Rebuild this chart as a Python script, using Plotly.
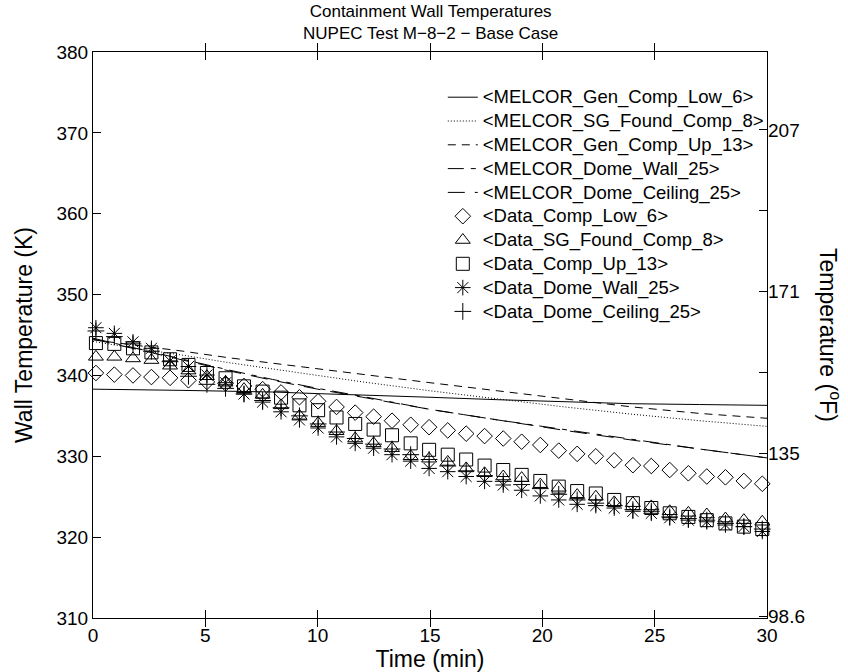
import plotly.graph_objects as go

# ---- data ----
data_time = [0.13, 0.95, 1.78, 2.6, 3.43, 4.25, 5.07, 5.9, 6.72, 7.55, 8.37, 9.19, 10.02,
             10.84, 11.67, 12.49, 13.31, 14.14, 14.96, 15.79, 16.61, 17.43, 18.26, 19.08,
             19.91, 20.73, 21.55, 22.38, 23.2, 24.03, 24.85, 25.67, 26.5, 27.32, 28.15,
             28.97, 29.79]

data_comp_low_6 = [340.3, 340.1, 340.0, 339.8, 339.7, 339.4, 339.2, 339.0, 338.7, 338.3,
                   337.9, 337.3, 336.8, 336.1, 335.4, 334.9, 334.4, 333.9, 333.6, 333.2,
                   332.8, 332.5, 332.2, 331.8, 331.4, 330.7, 330.3, 330.0, 329.5, 328.9,
                   328.8, 328.3, 327.9, 327.5, 327.4, 326.95, 326.6]
data_sg_found_8 = [342.3, 342.3, 342.1, 341.9, 341.2, 340.6, 339.9, 339.1, 338.3, 337.6,
                   336.3, 335.0, 334.1, 333.1, 332.2, 331.6, 331.0, 330.0, 329.7, 329.3,
                   328.5, 327.9, 327.5, 327.3, 326.5, 326.1, 325.2, 325.0, 324.3, 324.2,
                   323.8, 323.2, 323.0, 322.8, 322.3, 322.1, 321.9]
data_comp_up_13 = [344.0, 343.9, 343.35, 342.85, 342.0, 341.3, 340.3, 339.65, 338.65, 338.0,
                   337.25, 336.3, 335.7, 334.8, 334.0, 333.3, 332.6, 331.6, 330.8, 330.2,
                   329.6, 328.85, 328.3, 327.7, 326.95, 326.25, 325.7, 325.4, 324.6, 324.2,
                   323.6, 322.95, 322.5, 322.1, 321.7, 321.3, 321.0]
data_dome_wall_25 = [345.9, 345.2, 344.15, 343.35, 341.8, 341.1, 340.05, 339.1, 337.7, 336.7,
                     335.5, 334.5, 333.5, 332.4, 331.6, 331.0, 330.2, 329.4, 328.5, 328.1,
                     327.5, 326.9, 326.45, 325.8, 325.1, 324.6, 324.06, 323.9, 323.6, 323.2,
                     322.95, 322.4, 322.1, 321.9, 321.5, 321.3, 320.7]
data_dome_ceiling_25 = [345.5, 344.8, 343.9, 343.0, 341.7, 339.9, 338.9, 338.4, 337.7, 336.9,
                        336.0, 335.0, 334.0, 333.0, 332.2, 331.5, 330.9, 330.2, 329.6, 328.8,
                        328.2, 327.6, 326.9, 326.5, 326.0, 325.3, 324.6, 324.2, 323.9, 323.4,
                        323.2, 322.5, 322.3, 322.1, 321.7, 321.3, 321.0]

melcor_time = [0, 2, 4, 6, 8, 10, 12, 15, 18, 21, 24, 27, 30]
melcor_gen_comp_low_6 = [338.3, 338.25, 338.15, 338.05, 337.95, 337.75, 337.6, 337.3, 337.0,
                         336.75, 336.5, 336.4, 336.3]
melcor_sg_found_comp_8 = [344.2, 343.3, 342.5, 341.6, 340.8, 340.0, 339.2, 338.1, 337.1,
                          336.1, 335.2, 334.4, 333.7]
melcor_gen_comp_up_13 = [344.4, 343.7, 343.0, 342.2, 341.5, 340.8, 340.1, 339.1, 338.1,
                         337.1, 336.1, 335.3, 334.7]
melcor_dome_wall_25 = [344.6, 343.3, 342.0, 340.7, 339.5, 338.4, 337.4, 335.8, 334.5, 333.3,
                       332.1, 330.9, 329.8]
melcor_dome_ceiling_25 = [344.5, 343.2, 341.9, 340.6, 339.4, 338.3, 337.3, 335.8, 334.5,
                          333.2, 332.0, 330.9, 329.8]

y_ticks_k = [310, 320, 330, 340, 350, 360, 370, 380]
y2_tickvals_f = [98.6, 135, 171, 207]
y2_ticktext = ["98.6", "135", "171", "207"]
y2_minor_f = [153, 189]
x_ticks = [0, 5, 10, 15, 20, 25, 30]

FONT = "Liberation Sans, Arial, Helvetica, sans-serif"


def leg(name):
    return '<span style="font-size:18.5px">' + name + '</span>'


fig = go.Figure()

line_specs = [
    ("&lt;MELCOR_Gen_Comp_Low_6&gt;", melcor_gen_comp_low_6, "solid"),
    ("&lt;MELCOR_SG_Found_Comp_8&gt;", melcor_sg_found_comp_8, "1px,2px"),
    ("&lt;MELCOR_Gen_Comp_Up_13&gt;", melcor_gen_comp_up_13, "8px,6px"),
    ("&lt;MELCOR_Dome_Wall_25&gt;", melcor_dome_wall_25, "16px,7px,5px,7px"),
    ("&lt;MELCOR_Dome_Ceiling_25&gt;", melcor_dome_ceiling_25, "17px,10px"),
]
for name, ys, dash in line_specs:
    fig.add_trace(go.Scatter(x=melcor_time, y=ys, mode="lines", name=leg(name),
                             line=dict(color="black", width=1, dash=dash)))

marker_specs = [
    ("&lt;Data_Comp_Low_6&gt;", data_comp_low_6, "diamond-open", 12),
    ("&lt;Data_SG_Found_Comp_8&gt;", data_sg_found_8, "triangle-up-open", 13),
    ("&lt;Data_Comp_Up_13&gt;", data_comp_up_13, "square-open", 13),
    ("&lt;Data_Dome_Wall_25&gt;", data_dome_wall_25, "asterisk-open", 13),
    ("&lt;Data_Dome_Ceiling_25&gt;", data_dome_ceiling_25, "cross-thin-open", 12),
]
for name, ys, sym, size in marker_specs:
    fig.add_trace(go.Scatter(x=data_time, y=ys, mode="markers", name=leg(name),
                             cliponaxis=False,
                             marker=dict(symbol=sym, size=size, color="black",
                                         line=dict(color="black", width=1))))

# helper trace so the Fahrenheit axis is drawn
fig.add_trace(go.Scatter(x=[None], y=[None], yaxis="y2", showlegend=False, hoverinfo="skip"))

k_lo, k_hi = 310, 380
fig.update_layout(
    width=848, height=672,
    margin=dict(l=93, r=81, t=52, b=54, autoexpand=False),
    paper_bgcolor="white", plot_bgcolor="white",
    font=dict(family=FONT, size=19, color="black"),
    xaxis=dict(range=[0, 30], tickvals=x_ticks, ticks="inside", ticklen=8, tickcolor="black",
               showline=True, linecolor="black", linewidth=1, mirror="allticks",
               showgrid=False, zeroline=False, tickfont=dict(size=19), automargin=False,
               title=dict(text="Time (min)", font=dict(size=23), standoff=6)),
    yaxis=dict(range=[k_lo, k_hi], tickvals=y_ticks_k, ticks="inside", ticklen=8,
               tickcolor="black", showline=True, linecolor="black", linewidth=1, mirror=True,
               showgrid=False, zeroline=False, tickfont=dict(size=19), automargin=False,
               title=dict(text="Wall Temperature (K)", font=dict(size=23), standoff=17)),
    yaxis2=dict(overlaying="y", side="right",
                range=[k_lo * 1.8 - 459.67, k_hi * 1.8 - 459.67],
                tickmode="array", tickvals=y2_tickvals_f, ticktext=y2_ticktext,
                ticks="inside", ticklen=8, tickcolor="black",
                minor=dict(tickmode="array", tickvals=y2_minor_f, ticks="inside", ticklen=8,
                           tickcolor="black", showgrid=False),
                showline=False, showgrid=False, zeroline=False, automargin=False,
                tickfont=dict(size=19)),
    legend=dict(x=0.519, y=0.95, xanchor="left", yanchor="top", bgcolor="rgba(0,0,0,0)",
                font=dict(family=FONT, size=16, color="black"), tracegroupgap=0,
                itemwidth=30),
    showlegend=True,
    annotations=[
        dict(text="Containment Wall Temperatures<br>NUPEC Test M\u22128\u22122 \u2212 Base Case",
             x=0.5, y=1.0915, xref="paper", yref="paper", xanchor="center", yanchor="top",
             showarrow=False, font=dict(family=FONT, size=17, color="black")),
        dict(text="Temperature (<sup>o</sup>F)", textangle=90, x=1.0935, y=0.5,
             xref="paper", yref="paper", showarrow=False, xanchor="center",
             yanchor="middle", font=dict(family=FONT, size=23, color="black")),
    ],
)

fig.write_html("out.html", config={"displayModeBar": False},
               post_script="document.body.style.margin='0px';")
